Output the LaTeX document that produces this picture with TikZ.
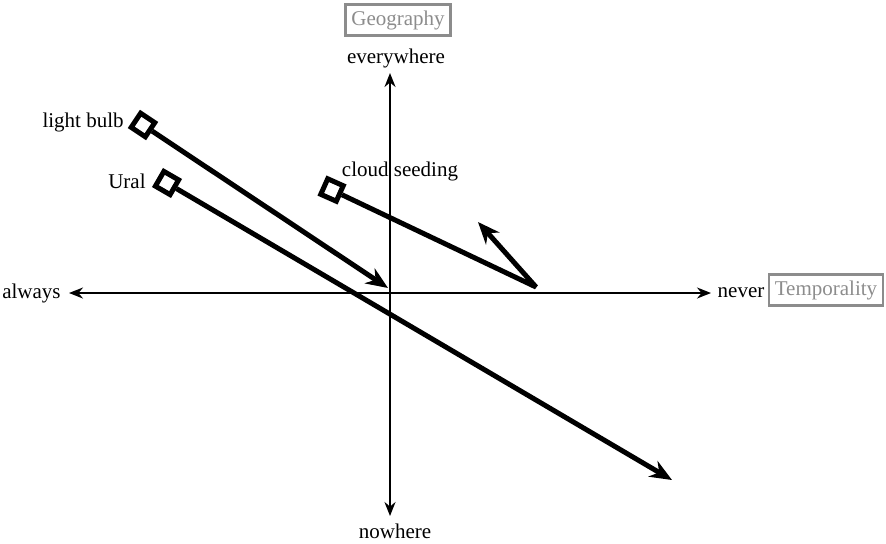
\documentclass[tikz,border=0pt]{standalone}
\usepackage{fontspec}
\setmainfont{Liberation Serif}
\usetikzlibrary{arrows.meta,positioning}
\definecolor{axisgray}{HTML}{8C8C8C}
\begin{document}
\begin{tikzpicture}[x=.5pt,y=-.5pt,>=Stealth,
 ax/.style={line width=1pt,<->,>={Stealth[length=7pt,width=5.5pt]}},
 mv/.style={line width=2.5pt,->,>={Stealth[length=11pt,width=9pt]}},
 sq/.style={draw,line width=2.5pt,minimum size=8.5pt,inner sep=0pt},
 tag/.style={draw=axisgray,line width=1.2pt,text=axisgray,inner sep=3pt,font=\fontsize{10.5}{12}\selectfont},
 lbl/.style={font=\fontsize{10.5}{12}\selectfont,inner sep=1pt}]
\useasboundingbox (0,0) rectangle (886,543);
\coordinate (w) at (69,293);\coordinate (e) at (711,293);
\coordinate (n) at (390,73);\coordinate (s) at (390,516);
\draw[ax] (w)--(e);\draw[ax] (s)--(n);
\node[lbl,anchor=east] (always) at (63,293) {always};\node[lbl] (never) at (741,293) {never};
\node[lbl] (every) at (396,58) {everywhere};\node[lbl] (nowh) at (395,531) {nowhere};
\node[tag] (temp) at (826,290) {Temporality};
\node[tag] (geo) at (398,20) {Geography};
% moves
\node[sq,rotate=-33.7] (lb) at (143,125) {};\node[lbl,anchor=east] at (126,122) {light bulb};
\coordinate (lbEnd) at (388,288);\draw[mv] (lb)--(lbEnd);
\node[sq,rotate=-30] (ur) at (167,183) {};\node[lbl,anchor=east] at (148,181) {Ural};
\coordinate (urEnd) at (672,480);\draw[mv] (ur)--(urEnd);
\node[sq,rotate=-24] (cs) at (332,190) {};\node[lbl] at (400,171) {cloud seeding};
\coordinate (csTurn) at (536,287);\coordinate (csEnd) at (478,222);
\draw[mv,line join=bevel] (cs)--(csTurn)--(csEnd);
\end{tikzpicture}
\end{document}
